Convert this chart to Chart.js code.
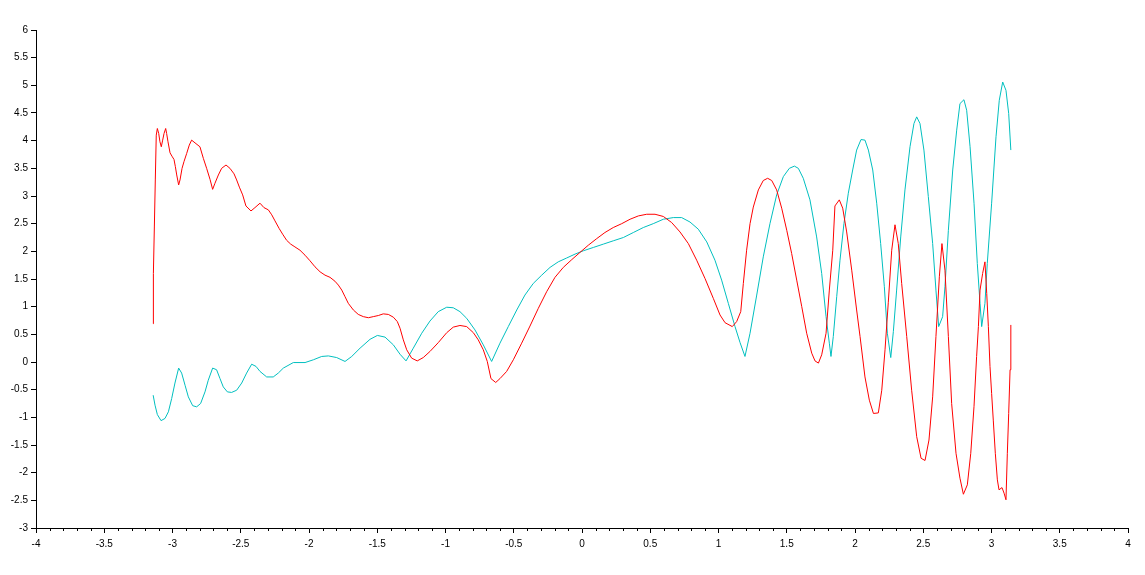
<!DOCTYPE html>
<html>
<head>
<meta charset="utf-8">
<script src="https://cdn.jsdelivr.net/npm/chart.js@4/dist/chart.umd.min.js"></script>
<style>
html,body{margin:0;padding:0;background:#fff;}
#wrap{width:1145px;height:575px;}
</style>
</head>
<body>
<div id="wrap"><canvas id="c" width="1145" height="575"></canvas></div>
<script>
const redX = [-3.1416,-3.140,-3.133,-3.126,-3.119,-3.111,-3.101,-3.092,-3.082,-3.072,-3.062,-3.050,-3.043,-3.033,-3.018,-3.004,-2.989,-2.979,-2.969,-2.955,-2.945,-2.930,-2.916,-2.896,-2.877,-2.860,-2.835,-2.799,-2.774,-2.750,-2.725,-2.706,-2.689,-2.664,-2.640,-2.608,-2.579,-2.549,-2.530,-2.510,-2.486,-2.462,-2.425,-2.396,-2.359,-2.330,-2.298,-2.273,-2.249,-2.218,-2.193,-2.164,-2.134,-2.103,-2.066,-2.029,-1.993,-1.956,-1.919,-1.883,-1.846,-1.810,-1.785,-1.760,-1.736,-1.712,-1.675,-1.639,-1.602,-1.565,-1.529,-1.492,-1.456,-1.419,-1.382,-1.353,-1.333,-1.309,-1.284,-1.248,-1.207,-1.163,-1.114,-1.053,-0.991,-0.943,-0.894,-0.845,-0.796,-0.760,-0.723,-0.694,-0.667,-0.632,-0.601,-0.552,-0.503,-0.442,-0.381,-0.320,-0.259,-0.198,-0.137,-0.075,-0.015,0.046,0.108,0.168,0.229,0.291,0.352,0.413,0.474,0.535,0.596,0.657,0.718,0.779,0.840,0.901,0.962,1.011,1.048,1.101,1.133,1.163,1.182,1.206,1.231,1.255,1.292,1.328,1.360,1.390,1.426,1.463,1.500,1.536,1.573,1.610,1.646,1.683,1.707,1.732,1.756,1.788,1.812,1.837,1.853,1.885,1.910,1.939,1.976,2.012,2.037,2.073,2.105,2.135,2.171,2.196,2.220,2.244,2.269,2.293,2.317,2.342,2.379,2.415,2.452,2.484,2.513,2.542,2.569,2.593,2.618,2.637,2.659,2.684,2.708,2.740,2.769,2.794,2.823,2.848,2.872,2.891,2.904,2.916,2.935,2.952,2.965,2.977,2.989,3.001,3.013,3.028,3.043,3.055,3.077,3.092,3.106,3.116,3.126,3.136,3.1416];
const redY = [0.69,1.60,2.44,3.29,4.10,4.22,4.13,3.98,3.89,4.01,4.13,4.22,4.13,3.98,3.78,3.72,3.66,3.53,3.38,3.20,3.29,3.50,3.62,3.77,3.92,4.01,3.96,3.89,3.68,3.50,3.30,3.12,3.23,3.38,3.50,3.56,3.50,3.40,3.29,3.16,3.02,2.82,2.73,2.79,2.87,2.79,2.75,2.66,2.55,2.41,2.31,2.20,2.13,2.08,2.02,1.93,1.83,1.72,1.63,1.57,1.53,1.46,1.39,1.30,1.18,1.06,0.94,0.86,0.82,0.80,0.82,0.84,0.87,0.86,0.81,0.73,0.61,0.40,0.22,0.07,0.02,0.08,0.19,0.35,0.53,0.63,0.66,0.64,0.53,0.40,0.22,0.01,-0.30,-0.37,-0.30,-0.17,0.04,0.34,0.65,0.97,1.27,1.53,1.71,1.85,1.98,2.11,2.23,2.34,2.43,2.50,2.58,2.64,2.67,2.67,2.63,2.52,2.35,2.14,1.84,1.51,1.15,0.85,0.71,0.64,0.73,0.91,1.42,2.02,2.50,2.80,3.11,3.28,3.32,3.28,3.11,2.78,2.38,1.96,1.48,1.00,0.52,0.16,0.02,-0.02,0.13,0.52,1.30,2.02,2.82,2.93,2.78,2.35,1.66,0.94,0.46,-0.27,-0.69,-0.93,-0.92,-0.51,0.22,1.08,2.02,2.48,2.14,1.42,0.46,-0.51,-1.35,-1.74,-1.78,-1.41,-0.63,0.46,1.54,2.14,1.66,0.46,-0.75,-1.65,-2.10,-2.39,-2.22,-1.65,-0.80,0.10,0.64,1.30,1.60,1.81,1.24,0.64,-0.08,-0.57,-1.05,-1.65,-2.13,-2.31,-2.27,-2.37,-2.49,-1.65,-0.93,-0.14,0.67];

const cyanX = [-3.1416,-3.128,-3.111,-3.084,-3.055,-3.030,-3.006,-2.982,-2.955,-2.933,-2.908,-2.884,-2.852,-2.823,-2.794,-2.762,-2.738,-2.706,-2.677,-2.652,-2.628,-2.598,-2.567,-2.530,-2.493,-2.457,-2.420,-2.388,-2.359,-2.310,-2.262,-2.225,-2.188,-2.115,-2.029,-1.968,-1.907,-1.858,-1.797,-1.736,-1.687,-1.626,-1.553,-1.499,-1.443,-1.382,-1.333,-1.289,-1.236,-1.174,-1.114,-1.053,-0.991,-0.943,-0.894,-0.845,-0.784,-0.723,-0.662,-0.601,-0.540,-0.478,-0.418,-0.357,-0.295,-0.234,-0.174,-0.112,-0.051,0.010,0.083,0.156,0.229,0.303,0.376,0.449,0.522,0.596,0.669,0.730,0.791,0.852,0.914,0.974,1.023,1.072,1.121,1.158,1.194,1.231,1.280,1.328,1.377,1.426,1.475,1.519,1.556,1.585,1.621,1.670,1.719,1.756,1.788,1.812,1.824,1.841,1.866,1.890,1.919,1.951,1.983,2.012,2.044,2.073,2.098,2.130,2.159,2.188,2.215,2.237,2.262,2.281,2.305,2.335,2.366,2.403,2.432,2.452,2.476,2.505,2.537,2.569,2.593,2.613,2.642,2.659,2.684,2.716,2.745,2.769,2.798,2.818,2.843,2.872,2.896,2.916,2.928,2.952,2.969,3.001,3.033,3.057,3.082,3.106,3.126,3.1416];
const cyanY = [-0.60,-0.78,-0.95,-1.06,-1.02,-0.90,-0.66,-0.38,-0.11,-0.20,-0.42,-0.63,-0.79,-0.81,-0.75,-0.54,-0.33,-0.11,-0.14,-0.30,-0.45,-0.54,-0.55,-0.51,-0.38,-0.20,-0.04,-0.08,-0.17,-0.27,-0.27,-0.20,-0.11,-0.01,-0.01,0.04,0.10,0.11,0.08,0.01,0.10,0.25,0.41,0.48,0.45,0.31,0.14,0.02,0.25,0.52,0.74,0.91,0.99,0.98,0.91,0.79,0.58,0.31,0.01,0.34,0.64,0.94,1.21,1.42,1.57,1.71,1.81,1.88,1.95,2.01,2.07,2.13,2.19,2.25,2.34,2.43,2.50,2.58,2.61,2.61,2.53,2.40,2.17,1.84,1.48,1.06,0.64,0.35,0.10,0.52,1.21,1.90,2.50,3.02,3.35,3.50,3.54,3.50,3.32,2.93,2.26,1.60,0.82,0.34,0.10,0.46,1.18,1.84,2.50,3.05,3.47,3.83,4.02,4.01,3.83,3.47,2.87,2.14,1.36,0.52,0.08,0.55,1.30,2.26,3.11,3.89,4.31,4.43,4.31,3.83,2.99,2.14,1.30,0.64,0.82,1.36,2.38,3.47,4.19,4.67,4.74,4.55,3.89,2.87,1.78,1.06,0.64,1.06,1.78,2.87,4.07,4.73,5.06,4.91,4.49,3.83];

const xMin = -4, xMax = 4, xStep = 0.5, xMinorStep = 0.1;
const yMin = -3, yMax = 6, yStep = 0.5;

function pts(xs, ys){ return xs.map((x,i)=>({x:x, y:ys[i]})); }

const minorTicks = {
  id: 'minorTicks',
  afterDraw(chart){
    const xs = chart.scales.x, ctx = chart.ctx;
    const base = chart.chartArea.bottom;
    ctx.save();
    ctx.strokeStyle = '#000';
    ctx.lineWidth = 1;
    ctx.beginPath();
    const n = Math.round((xMax - xMin)/xMinorStep);
    for (let i=0;i<=n;i++){
      if (i % 5 === 0) continue;
      const v = xMin + i*xMinorStep;
      const px = Math.round(xs.getPixelForValue(v)) + 0.5;
      ctx.moveTo(px, base);
      ctx.lineTo(px, base + 3);
    }
    ctx.stroke();
    ctx.restore();
  }
};

const font = {family: '"Liberation Sans", Arial, sans-serif', size: 10};

new Chart(document.getElementById('c'), {
  type: 'scatter',
  data: {
    datasets: [
      {data: pts(redX, redY), showLine: true, borderColor: '#ff0000', borderWidth: 1, pointRadius: 0, tension: 0, fill: false},
      {data: pts(cyanX, cyanY), showLine: true, borderColor: '#00bfbf', borderWidth: 1, pointRadius: 0, tension: 0, fill: false}
    ]
  },
  options: {
    responsive: false,
    animation: false,
    devicePixelRatio: 1,
    layout: {padding: {left: 0, top: 30, right: 17, bottom: 0}},
    plugins: {legend: {display: false}, tooltip: {enabled: false}},
    scales: {
      x: {
        type: 'linear', min: xMin, max: xMax,
        afterFit(s){ s.height = 47; },
        ticks: {stepSize: xStep, color: '#000', font: font, padding: 5, maxRotation: 0, autoSkip: false,
                callback: v => String(Math.round(v*10)/10)},
        grid: {display: true, drawOnChartArea: false, drawTicks: true, tickLength: 5, color: '#000'},
        border: {display: true, color: '#000', width: 1}
      },
      y: {
        type: 'linear', min: yMin, max: yMax,
        afterFit(s){ s.width = 36; },
        ticks: {stepSize: yStep, color: '#000', font: font, padding: 3, autoSkip: false,
                callback: v => String(Math.round(v*10)/10)},
        grid: {display: true, drawOnChartArea: false, drawTicks: true, tickLength: 5, color: '#000'},
        border: {display: true, color: '#000', width: 1}
      }
    }
  },
  plugins: [minorTicks]
});
</script>
</body>
</html>
